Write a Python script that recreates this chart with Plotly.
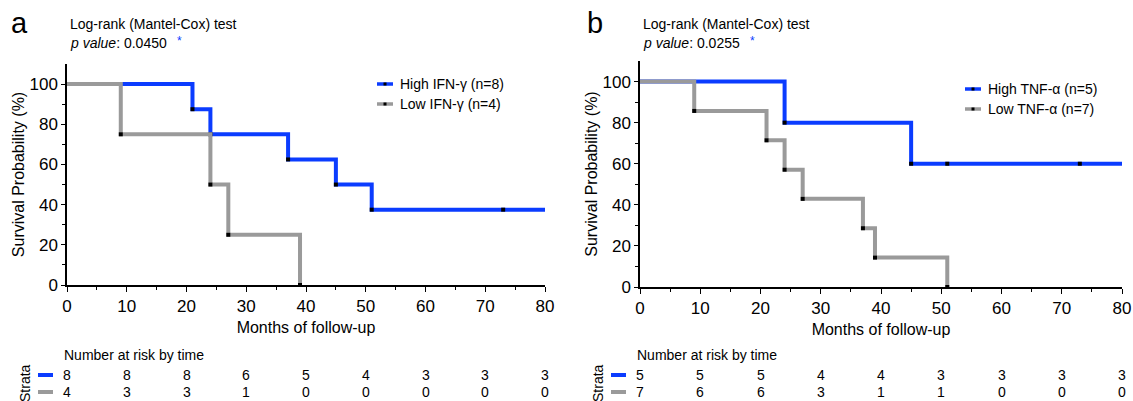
import plotly.graph_objects as go

# ---------------- data ----------------
months_ticks = [0, 10, 20, 30, 40, 50, 60, 70, 80]

# Panel a: IFN-gamma
a_high_t = [0, 21, 24, 37, 45, 51, 80]
a_high_s = [100, 87.5, 75, 62.5, 50, 37.5, 37.5]
a_high_mark_t = [21, 24, 37, 45, 51, 73]
a_high_mark_s = [87.5, 75, 62.5, 50, 37.5, 37.5]
a_low_t = [0, 9, 24, 27, 39]
a_low_s = [100, 75, 50, 25, 0]
a_low_mark_t = [9, 24, 27, 39]
a_low_mark_s = [75, 50, 25, 0]
a_risk_high = [8, 8, 8, 6, 5, 4, 3, 3, 3]
a_risk_low = [4, 3, 3, 1, 0, 0, 0, 0, 0]
a_labels = ["High IFN-γ (n=8)", "Low IFN-γ (n=4)"]
a_pvalue = "0.0450"

# Panel b: TNF-alpha
b_high_t = [0, 24, 45, 80]
b_high_s = [100, 80, 60, 60]
b_high_mark_t = [24, 45, 51, 73]
b_high_mark_s = [80, 60, 60, 60]
b_low_t = [0, 9, 21, 24, 27, 37, 39, 51]
b_low_s = [100, 85.7, 71.4, 57.1, 42.9, 28.6, 14.3, 0]
b_low_mark_t = [9, 21, 24, 27, 37, 39, 51]
b_low_mark_s = [85.7, 71.4, 57.1, 42.9, 28.6, 14.3, 0]
b_risk_high = [5, 5, 5, 4, 4, 3, 3, 3, 3]
b_risk_low = [7, 6, 6, 3, 1, 1, 0, 0, 0]
b_labels = ["High TNF-α (n=5)", "Low TNF-α (n=7)"]
b_pvalue = "0.0255"

# ---------------- style ----------------
W, H = 1133, 401
BLUE = "#0b3cff"
GRAY = "#9a9a9a"
FONT = "Liberation Sans, Arial, sans-serif"


def px(x):
    return x / W


def py(y):
    return 1 - y / H


fig = go.Figure()


def add_panel(xa, ya, high_t, high_s, hm_t, hm_s, low_t, low_s, lm_t, lm_s):
    fig.add_trace(go.Scatter(x=high_t, y=high_s, mode="lines", line=dict(color=BLUE, width=4, shape="hv"),
                             xaxis=xa, yaxis=ya, showlegend=False, hoverinfo="skip"))
    fig.add_trace(go.Scatter(x=hm_t, y=hm_s, mode="markers",
                             marker=dict(symbol="square", size=4, color="black"),
                             xaxis=xa, yaxis=ya, showlegend=False, cliponaxis=False, hoverinfo="skip"))
    fig.add_trace(go.Scatter(x=low_t, y=low_s, mode="lines", line=dict(color=GRAY, width=4, shape="hv"),
                             xaxis=xa, yaxis=ya, showlegend=False, hoverinfo="skip"))
    fig.add_trace(go.Scatter(x=lm_t, y=lm_s, mode="markers",
                             marker=dict(symbol="square", size=4, color="black"),
                             xaxis=xa, yaxis=ya, showlegend=False, cliponaxis=False, hoverinfo="skip"))


add_panel("x", "y", a_high_t, a_high_s, a_high_mark_t, a_high_mark_s,
          a_low_t, a_low_s, a_low_mark_t, a_low_mark_s)
add_panel("x2", "y2", b_high_t, b_high_s, b_high_mark_t, b_high_mark_s,
          b_low_t, b_low_s, b_low_mark_t, b_low_mark_s)


def xaxis_cfg(domain, anchor):
    return dict(domain=domain, anchor=anchor, range=[0, 80], tickvals=months_ticks, automargin=False,
                ticks="outside", ticklen=5, tickwidth=1.3, tickcolor="black",
                showline=True, linecolor="black", linewidth=1.5, showgrid=False, zeroline=False,
                tickfont=dict(family=FONT, size=17, color="black"),
                minor=dict(tickvals=[5, 15, 25, 35, 45, 55, 65, 75], ticks="outside",
                           ticklen=3, tickwidth=1, tickcolor="black"),
                title=dict(text="Months of follow-up", font=dict(family=FONT, size=16, color="black"),
                           standoff=7))


def yaxis_cfg(domain, anchor):
    return dict(domain=domain, anchor=anchor, range=[0, 110], tickvals=[0, 20, 40, 60, 80, 100],
                automargin=False,
                ticks="outside", ticklen=4, tickwidth=1.3, tickcolor="black",
                showline=True, linecolor="black", linewidth=1.5, showgrid=False, zeroline=False,
                tickfont=dict(family=FONT, size=17, color="black"),
                minor=dict(tickvals=[10, 30, 50, 70, 90], ticks="outside",
                           ticklen=3, tickwidth=1, tickcolor="black"),
                title=dict(text="Survival Probability (%)", font=dict(family=FONT, size=16, color="black"),
                           standoff=1))


annotations = []
shapes = []


def txt(x, y, text, size, xanchor="left", color="black", textangle=0, xref="paper"):
    annotations.append(dict(x=x, y=y, xref=xref, yref="paper", text=text, showarrow=False,
                            xanchor=xanchor, yanchor="middle", textangle=textangle,
                            font=dict(family=FONT, size=size, color=color)))


def seg(x0, x1, y, color, width=3.5):
    shapes.append(dict(type="line", xref="paper", yref="paper", x0=px(x0), x1=px(x1),
                       y0=py(y), y1=py(y), line=dict(color=color, width=width)))


def dot(x, y):
    shapes.append(dict(type="rect", xref="paper", yref="paper", x0=px(x - 1.5), x1=px(x + 1.5),
                       y0=py(y + 1.5), y1=py(y - 1.5), line=dict(width=0), fillcolor="black"))


def panel_text(letter_x, left_x, letter, pval, leg_x, leg_y, labels, axis_left, xref, risk_high, risk_low):
    txt(px(letter_x), py(23), letter, 29, xanchor="center")
    txt(px(left_x), py(24), "Log-rank (Mantel-Cox) test", 14)
    txt(px(left_x), py(43), "<i>p value</i>: " + pval, 14)
    txt(px(left_x + 107), py(41), "*", 12, xanchor="left", color=BLUE)
    # legend
    for i, (lab, col) in enumerate(zip(labels, [BLUE, GRAY])):
        yy = leg_y + 20 * i
        seg(leg_x, leg_x + 16, yy, col, 3.5)
        dot(leg_x + 8, yy)
        txt(px(leg_x + 21), py(yy), lab, 14)
    # number at risk
    txt(px(axis_left - 5), py(355), "Number at risk by time", 14)
    txt(px(axis_left - 42), py(383), "Strata", 14, xanchor="center", textangle=-90)
    for j, (row, col) in enumerate(zip([risk_high, risk_low], [BLUE, GRAY])):
        yy = 375 + 17 * j
        seg(axis_left - 29, axis_left - 14, yy, col, 4)
        for t, n in zip(months_ticks, row):
            txt(t, py(yy), str(n), 14, xanchor="center", xref=xref)


panel_text(19, 68, "a", a_pvalue, 377, 84, a_labels, 67, "x", a_risk_high, a_risk_low)
panel_text(595, 641, "b", b_pvalue, 965, 89, b_labels, 640, "x2", b_risk_high, b_risk_low)

fig.update_layout(
    width=W, height=H,
    margin=dict(l=0, r=0, t=0, b=0),
    paper_bgcolor="white", plot_bgcolor="white",
    showlegend=False,
    xaxis=xaxis_cfg([px(67), px(545)], "y"),
    yaxis=yaxis_cfg([py(285), py(64)], "x"),
    xaxis2=xaxis_cfg([px(640), px(1122)], "y2"),
    yaxis2=yaxis_cfg([py(287), py(61)], "x2"),
    annotations=annotations,
    shapes=shapes,
    font=dict(family=FONT),
)

fig.write_html("out.html", config={"displayModeBar": False},
               post_script="document.body.style.margin='0px';")
